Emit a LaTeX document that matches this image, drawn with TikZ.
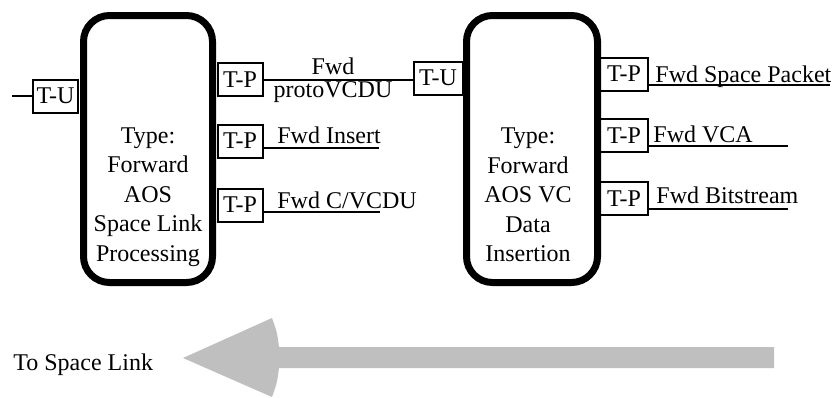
\documentclass[tikz,border=0pt]{standalone}
\usepackage{fontspec}
\setmainfont{Liberation Serif}
\usepackage{tikz}
\usetikzlibrary{shapes,arrows,positioning}

\definecolor{arrowgray}{RGB}{191,191,191}

\tikzset{
    procbox/.style={draw, line width=3.5pt, rounded corners=13pt, inner sep=0pt},
    portbox/.style={draw, line width=1pt, minimum height=16.5pt, minimum width=22.5pt, inner xsep=2pt, inner ysep=0pt},
    flowlbl/.style={inner sep=0pt, anchor=base west},
    wire/.style={line width=1pt}
}

\begin{document}
\begin{tikzpicture}[x=0.5pt, y=-0.5pt, font=\fontsize{12}{14.75}\selectfont]
    \useasboundingbox (0,0) rectangle (834,397);

    % Space Link Processing
    \node[procbox, minimum width=64.5pt, minimum height=133.5pt] (slp) at (148,149) {};
    \node[align=center] (slptxt) at (148,197) {Type:\\Forward\\AOS\\Space Link\\Processing};
    \node[portbox] (tul) at (55.5,96) {T-U};
    \node[portbox] (tpa) at (240,79.5) {T-P};
    \node[portbox] (tpb) at (240,141) {T-P};
    \node[portbox] (tpc) at (240,205) {T-P};

    % VC Data Insertion
    \node[procbox, minimum width=65.5pt, minimum height=133.5pt] (vci) at (532,149) {};
    \node[align=center] (vcitxt) at (528,195) {Type:\\Forward\\AOS VC\\Data\\Insertion};
    \node[portbox, minimum width=24.5pt] (tur) at (438,78) {T-U};
    \node[portbox, minimum width=24pt] (tpd) at (624,74) {T-P};
    \node[portbox, minimum width=24pt] (tpe) at (624,135.5) {T-P};
    \node[portbox, minimum width=24pt] (tpf) at (624,198.5) {T-P};

    % links
    \coordinate (inl) at (12,96);
    \draw[wire] (inl) -- (tul.west);
    \draw[wire] (tpa.east) -- (tpa.east -| tur.west);
    \node[inner sep=0pt, anchor=base] (fwd) at (333,74) {Fwd};
    \node[inner sep=0pt, anchor=base] (proto) at (333,97) {protoVCDU};

    % underlined outputs
    \coordinate (eb) at (379,148);
    \coordinate (ec) at (380,212);
    \coordinate (ed) at (830,85);
    \coordinate (ee) at (788,146);
    \coordinate (ef) at (788,209);
    \node[flowlbl] (lb) at (277,143) {Fwd Insert};
    \node[flowlbl] (lc) at (277,208) {Fwd C/VCDU};
    \node[flowlbl] (ld) at (655,82) {Fwd Space Packet};
    \node[flowlbl] (le) at (653,142) {Fwd VCA};
    \node[flowlbl] (lf) at (656,203) {Fwd Bitstream};
    \draw[wire] (tpb.east |- eb) -- (eb);
    \draw[wire] (tpc.east |- ec) -- (ec);
    \draw[wire] (tpd.east |- ed) -- (ed);
    \draw[wire] (tpe.east |- ee) -- (ee);
    \draw[wire] (tpf.east |- ef) -- (ef);

    % direction arrow
    \node[inner sep=0pt, anchor=base west] (tsl) at (13,370) {To Space Link};
    \fill[arrowgray] (183,358) -- (272,318) .. controls (277,332) .. (279,347)
        -- (774,347) -- (774,368) -- (279,368) .. controls (277,383) .. (272,397) -- cycle;
\end{tikzpicture}
\end{document}
